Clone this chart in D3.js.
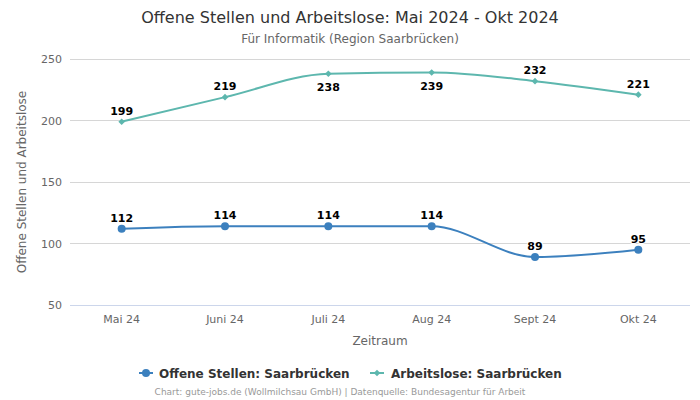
<!DOCTYPE html>
<html><head><meta charset="utf-8">
<script src="https://cdn.jsdelivr.net/npm/d3@7"></script>
<style>body{margin:0;background:#fff;font-family:"DejaVu Sans",sans-serif;}</style>
</head><body><svg id="c" width="700" height="400"></svg>
<script>
const categories = ["Mai 24","Juni 24","Juli 24","Aug 24","Sept 24","Okt 24"];
const offeneStellen = [112,114,114,114,89,95];
const arbeitslose = [199,219,238,239,232,221];
const yTicks = [50,100,150,200,250];
const seriesNames = ["Offene Stellen: Saarbrücken","Arbeitslose: Saarbrücken"];
const labelBelow = [[false,false,false,false,false,false],[false,false,true,true,false,false]];

const svg = d3.select("#c");
const L = 70, R = 690, T = 59, B = 305;
const x = d3.scaleBand().domain(categories).range([L,R]);
const y = d3.scaleLinear().domain([50,250]).range([B,T]);
const cx = d => x(d) + x.bandwidth()/2;
const font = "DejaVu Sans, sans-serif";

svg.append("text").attr("x",350).attr("y",22.5).attr("text-anchor","middle")
  .attr("font-size",16).attr("fill","#333").attr("font-family",font)
  .text("Offene Stellen und Arbeitslose: Mai 2024 - Okt 2024");
svg.append("text").attr("x",350).attr("y",43).attr("text-anchor","middle")
  .attr("font-size",12).attr("fill","#666").attr("font-family",font)
  .text("Für Informatik (Region Saarbrücken)");

// grid
svg.append("g").selectAll("line").data(yTicks.filter(t=>t!==50)).join("line")
  .attr("x1",L).attr("x2",R).attr("y1",d=>y(d)).attr("y2",d=>y(d))
  .attr("stroke","#d6d6d6").attr("stroke-width",1).attr("shape-rendering","crispEdges");
svg.append("line").attr("x1",L).attr("x2",R).attr("y1",y(50)).attr("y2",y(50))
  .attr("stroke","#ccd6eb").attr("shape-rendering","crispEdges");

const ya = svg.append("g").attr("transform",`translate(${L-8},0)`)
  .call(d3.axisLeft(y).tickValues(yTicks).tickSize(0).tickPadding(0));
ya.select(".domain").remove();
ya.selectAll("text").attr("font-size",11).attr("fill","#666").attr("font-family",font);

const xa = svg.append("g").attr("transform",`translate(0,${B})`)
  .call(d3.axisBottom(x).tickSize(0).tickPadding(10));
xa.select(".domain").remove();
xa.selectAll("text").attr("font-size",11).attr("fill","#666").attr("font-family",font);

svg.append("text").attr("x",380).attr("y",344.5).attr("text-anchor","middle")
  .attr("font-size",12).attr("fill","#666").attr("font-family",font).text("Zeitraum");
svg.append("text").attr("transform","translate(26,182) rotate(-90)").attr("text-anchor","middle")
  .attr("font-size",12).attr("fill","#666").attr("font-family",font).text("Offene Stellen und Arbeitslose");

const colors = ["#3c80be","#5db7ae"];
const data = [offeneStellen, arbeitslose];
const line = d3.line().x((d,i)=>cx(categories[i])).y(d=>y(d)).curve(d3.curveMonotoneX);

data.forEach((vals,si)=>{
  svg.append("path").datum(vals).attr("d",line).attr("fill","none")
    .attr("stroke",colors[si]).attr("stroke-width",2);
  const g = svg.append("g");
  vals.forEach((v,i)=>{
    const px = cx(categories[i]), py = y(v);
    if (si===0) g.append("circle").attr("cx",px).attr("cy",py).attr("r",4).attr("fill",colors[si]);
    else g.append("path").attr("d",d3.symbol(d3.symbolDiamond2,28)()).attr("transform",`translate(${px},${py})`).attr("fill",colors[si]);
    const below = labelBelow[si][i];
    g.append("text").attr("x",px).attr("y", below ? py+17 : py-7).attr("text-anchor","middle")
      .attr("font-size",11).attr("font-weight","bold").attr("fill","#000").attr("font-family",font)
      .attr("stroke","#fff").attr("stroke-width",2).attr("paint-order","stroke").text(v);
  });
});

// legend
const lg = [{x:139,tx:159},{x:370,tx:391}];
seriesNames.forEach((n,i)=>{
  const ly = 373;
  svg.append("line").attr("x1",lg[i].x).attr("x2",lg[i].x+14).attr("y1",ly).attr("y2",ly)
    .attr("stroke",colors[i]).attr("stroke-width",2);
  if (i===0) svg.append("circle").attr("cx",lg[i].x+7).attr("cy",ly).attr("r",4).attr("fill",colors[i]);
  else svg.append("path").attr("d",d3.symbol(d3.symbolDiamond2,28)()).attr("transform",`translate(${lg[i].x+7},${ly})`).attr("fill",colors[i]);
  svg.append("text").attr("x",lg[i].tx).attr("y",ly+4.5).attr("font-size",12).attr("font-weight","bold")
    .attr("fill","#333").attr("font-family",font).text(n);
});

svg.append("text").attr("x",340).attr("y",395).attr("text-anchor","middle")
  .attr("font-size",9).attr("fill","#999").attr("font-family",font)
  .text("Chart: gute-jobs.de (Wollmilchsau GmbH) | Datenquelle: Bundesagentur für Arbeit");
</script></body></html>
